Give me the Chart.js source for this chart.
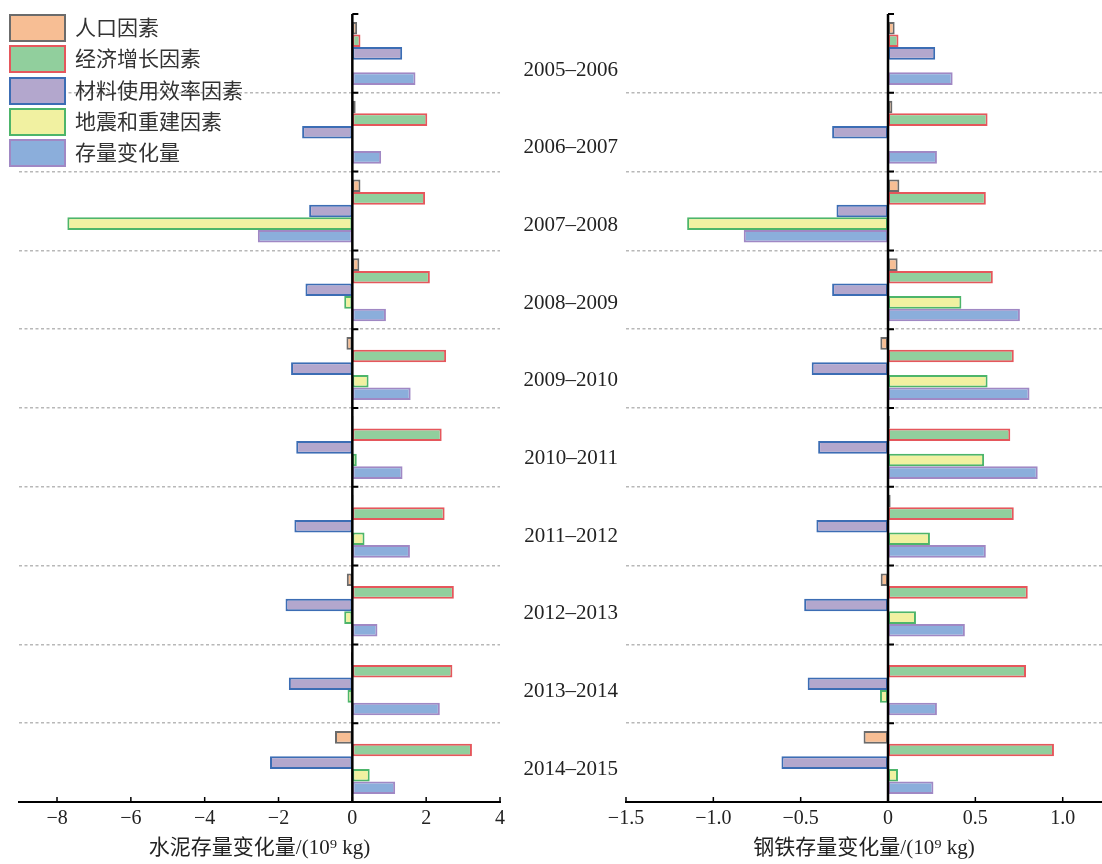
<!DOCTYPE html>
<html lang="zh-CN">
<head>
<meta charset="utf-8">
<title>水泥与钢铁存量变化因素分解</title>
<script src="https://cdn.jsdelivr.net/npm/chart.js@4.4.1/dist/chart.umd.min.js"></script>
<style>
  html, body { margin: 0; padding: 0; background: #fff; }
  #wrap { position: relative; width: 1102px; height: 864px; overflow: hidden; }
  canvas { position: absolute; top: 0; }
  #cement { left: 0; }
  #steel { left: 510px; }
  #legend { position: absolute; left: 9px; top: 14px; font-family: 'Noto Sans CJK SC', sans-serif; font-size: 21px; color: #333; }
  .item { display: flex; align-items: center; height: 28px; margin-bottom: 3.3px; }
  .swatch { box-sizing: border-box; width: 57px; height: 28px; border: 2px solid; margin-right: 9px; }
  .item span { position: relative; top: -2px; }
</style>
</head>
<body>
<div id="wrap">
  <canvas id="cement" width="520" height="864"></canvas>
  <canvas id="steel" width="592" height="864"></canvas>
  <div id="legend"></div>
</div>
<script>
// Periods (category axis)
const periods = ['2005–2006', '2006–2007', '2007–2008', '2008–2009', '2009–2010',
                 '2010–2011', '2011–2012', '2012–2013', '2013–2014', '2014–2015'];

// Factor names
const seriesNames = ['人口因素', '经济增长因素', '材料使用效率因素', '地震和重建因素', '存量变化量'];

// Cement stock change by factor (10^9 kg)
const cementPopulation = [0.13, 0.09, 0.22, 0.19, -0.16, 0.03, 0.03, -0.15, -0.04, -0.47];
const cementEconomy    = [0.22, 2.03, 1.97, 2.10, 2.54, 2.42, 2.50, 2.75, 2.71, 3.24];
const cementEfficiency = [1.35, -1.36, -1.17, -1.27, -1.66, -1.52, -1.57, -1.81, -1.72, -2.23];
const cementQuake      = [0, 0, -7.72, -0.22, 0.44, 0.12, 0.33, -0.22, -0.13, 0.47];
const cementStock      = [1.71, 0.78, -2.56, 0.91, 1.58, 1.36, 1.56, 0.68, 2.37, 1.16];

// Steel stock change by factor (10^9 kg)
const steelPopulation = [0.038, 0.025, 0.065, 0.055, -0.044, 0.01, 0.015, -0.042, -0.005, -0.14];
const steelEconomy    = [0.06, 0.57, 0.56, 0.60, 0.72, 0.70, 0.72, 0.80, 0.79, 0.95];
const steelEfficiency = [0.27, -0.32, -0.295, -0.32, -0.437, -0.40, -0.41, -0.48, -0.46, -0.61];
const steelQuake      = [0, 0, -1.15, 0.42, 0.57, 0.55, 0.24, 0.16, -0.046, 0.057];
const steelStock      = [0.37, 0.28, -0.826, 0.755, 0.81, 0.857, 0.56, 0.44, 0.28, 0.26];

// Value-axis ticks
const cementTicks = [-8, -6, -4, -2, 0, 2, 4];
const steelTicks  = [-1.5, -1, -0.5, 0, 0.5, 1];

// Fill / outline colours per factor
const fillColors   = ['#F7BE94', '#91CF9D', '#B3A7CD', '#F1F1A1', '#8BAEDB'];
const strokeColors = ['#6B6B6B', '#E5575C', '#3C6DB4', '#4DB56A', '#A088C4'];

const serif = "'Liberation Serif', 'Noto Sans CJK SC', serif";
const minus = '\u2212';

// Zero line with inner ticks at period boundaries, plus inward ticks on the value axis
const axisMarks = {
  id: 'axisMarks',
  afterDatasetsDraw(chart) {
    const { ctx, chartArea: a, scales: { x, y } } = chart;
    const x0 = x.getPixelForValue(0);
    ctx.save();
    ctx.strokeStyle = '#000';
    ctx.lineWidth = 2.5;
    ctx.beginPath();
    ctx.moveTo(x0, a.top);
    ctx.lineTo(x0, a.bottom);
    ctx.stroke();
    ctx.lineWidth = 2;
    ctx.beginPath();
    for (let i = 0; i < periods.length; i++) {
      const yy = y.getPixelForValue(i - 0.5);
      ctx.moveTo(x0, yy);
      ctx.lineTo(x0 + 6, yy);
    }
    ctx.stroke();
    ctx.lineWidth = 1.5;
    ctx.beginPath();
    x.ticks.forEach(t => {
      const px = x.getPixelForValue(t.value);
      ctx.moveTo(px, a.bottom);
      ctx.lineTo(px, a.bottom - 5);
    });
    ctx.stroke();
    ctx.restore();
  }
};

function buildDatasets(seriesValues) {
  return seriesValues.map((vals, i) => ({
    label: seriesNames[i],
    data: vals,
    backgroundColor: fillColors[i],
    borderColor: strokeColors[i],
    borderWidth: 2,
    borderSkipped: false,
    categoryPercentage: 0.8,
    barPercentage: 1.0
  }));
}

function noEdgePadding(s) { s.paddingTop = 0; s.paddingBottom = 0; }

function makeChart(id, seriesValues, cfg) {
  const scales = {
    x: {
      type: 'linear',
      min: cfg.min,
      max: cfg.max,
      afterBuildTicks: s => { s.ticks = cfg.ticks.map(v => ({ value: v })); },
      afterFit: s => { s.height = 62; },
      grid: { display: false, drawTicks: false },
      border: { display: true, color: '#000', width: 2 },
      ticks: {
        padding: 5,
        color: '#222',
        font: { family: serif, size: 20 },
        callback: cfg.format
      },
      title: {
        display: true,
        text: cfg.title,
        color: '#222',
        font: { family: serif, size: 21 },
        padding: { top: 0, bottom: 3 }
      }
    },
    y: {
      type: 'category',
      afterFit: s => { s.width = cfg.showLabels ? 0 : cfg.yWidth; noEdgePadding(s); },
      grid: {
        offset: true,
        drawTicks: false,
        lineWidth: 1.5,
        color: c => (c.index === 0 || c.index === periods.length) ? 'rgba(0,0,0,0)' : '#b8b8b8'
      },
      border: { display: false, dash: [3, 2.5] },
      ticks: { display: false }
    }
  };
  if (cfg.showLabels) {
    // Period labels set slightly below each group's centre line
    scales.periodLabels = {
      type: 'linear',
      position: 'left',
      reverse: true,
      offset: false,
      min: -0.721,
      max: 9.425,
      afterBuildTicks: s => { s.ticks = periods.map((_, i) => ({ value: i })); },
      afterFit: s => { s.width = cfg.yWidth; noEdgePadding(s); },
      grid: { display: false, drawTicks: false, offset: false },
      border: { display: false },
      ticks: {
        padding: 8,
        color: '#222',
        font: { family: serif, size: 21 },
        callback: v => periods[v]
      }
    };
  }
  return new Chart(document.getElementById(id), {
    type: 'bar',
    data: { labels: periods, datasets: buildDatasets(seriesValues) },
    plugins: [axisMarks],
    options: {
      indexAxis: 'y',
      responsive: false,
      animation: false,
      devicePixelRatio: 1,
      layout: { padding: { top: 14, right: cfg.rightPad, bottom: 0, left: 0 } },
      plugins: { legend: { display: false }, tooltip: { enabled: false } },
      scales
    }
  });
}

makeChart('cement',
  [cementPopulation, cementEconomy, cementEfficiency, cementQuake, cementStock],
  {
    min: -9.03, max: 4, ticks: cementTicks, rightPad: 20, yWidth: 19, showLabels: false,
    title: '水泥存量变化量/(10⁹ kg)',
    format: v => v < 0 ? minus + Math.abs(v) : String(v)
  });

makeChart('steel',
  [steelPopulation, steelEconomy, steelEfficiency, steelQuake, steelStock],
  {
    min: -1.5, max: 1.225, ticks: steelTicks, rightPad: 0, yWidth: 116, showLabels: true,
    title: '钢铁存量变化量/(10⁹ kg)',
    format: v => v === 0 ? '0' : (v < 0 ? minus : '') + Math.abs(v).toFixed(1)
  });

// Legend
const legend = document.getElementById('legend');
seriesNames.forEach((name, i) => {
  const row = document.createElement('div');
  row.className = 'item';
  const sw = document.createElement('div');
  sw.className = 'swatch';
  sw.style.background = fillColors[i];
  sw.style.borderColor = strokeColors[i];
  const txt = document.createElement('span');
  txt.textContent = name;
  row.appendChild(sw);
  row.appendChild(txt);
  legend.appendChild(row);
});
</script>
</body>
</html>
